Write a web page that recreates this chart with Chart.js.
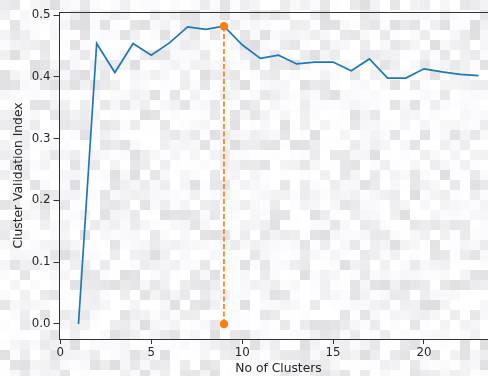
<!DOCTYPE html>
<html>
<head>
<meta charset="utf-8">
<script src="https://cdn.jsdelivr.net/npm/chart.js@4/dist/chart.umd.min.js"></script>
<style>
  html, body { margin: 0; padding: 0; background: #ffffff; overflow: hidden; }
  #wrap { position: relative; width: 510px; height: 376px; }
  canvas { display: block; }
</style>
</head>
<body>
<div id="wrap"><canvas id="chart" width="510" height="376"></canvas></div>
<script>
// Cluster validation index for each candidate number of clusters
const clusterCounts = [1, 2, 3, 4, 5, 6, 7, 8, 9, 10, 11, 12, 13, 14, 15, 16, 17, 18, 19, 20, 21, 22, 23];
const validationIndex = [0.000, 0.454, 0.407, 0.454, 0.435, 0.455, 0.481, 0.477, 0.482, 0.452, 0.430, 0.435,
                         0.421, 0.424, 0.424, 0.410, 0.429, 0.398, 0.398, 0.413, 0.408, 0.404, 0.402];
// Best number of clusters (highest index)
const bestK = 9;
const bestValue = 0.482;
const xTicks = [0, 5, 10, 15, 20];
const yTicks = [0.0, 0.1, 0.2, 0.3, 0.4, 0.5];

const FONT = "'DejaVu Sans', sans-serif";
const TEXT = '#262626';

// Faint blocky backdrop behind the whole figure
const backdrop = {
  id: 'backdrop',
  beforeDraw(chart) {
    const ctx = chart.ctx;
    const w = chart.width, h = chart.height, s = 10;
    ctx.save();
    ctx.fillStyle = '#ffffff';
    ctx.fillRect(0, 0, w, h);
    for (let by = 0; by < h; by += s) {
      for (let bx = 0; bx < w; bx += s) {
        let n = (bx * 374761393 + by * 668265263) ^ 0x5bd1e995;
        n = (n ^ (n >>> 13)) * 1274126177;
        n = (n ^ (n >>> 16)) >>> 0;
        const t = (n % 1000) / 1000;
        const g = Math.round(255 - 32 * t * t);
        ctx.fillStyle = `rgb(${g},${g},${Math.min(255, g + 3)})`;
        ctx.fillRect(bx, by, s, s);
      }
    }
    ctx.restore();
  }
};

// Axes frame: left, bottom, top, right
const frame = {
  id: 'frame',
  afterDatasetsDraw(chart) {
    const { left, right, top, bottom } = chart.chartArea;
    const ctx = chart.ctx;
    ctx.save();
    ctx.strokeStyle = '#333333';
    ctx.lineWidth = 1;
    ctx.strokeRect(Math.round(left) + 0.5, Math.round(top) + 0.5,
                   Math.round(right - left), Math.round(bottom - top));
    ctx.restore();
  }
};

new Chart(document.getElementById('chart'), {
  type: 'line',
  data: {
    datasets: [
      {
        data: clusterCounts.map((k, i) => ({ x: k, y: validationIndex[i] })),
        borderColor: '#1f77b4',
        borderWidth: 1.7,
        pointRadius: 0,
        tension: 0,
        fill: false,
        order: 2
      },
      {
        data: [{ x: bestK, y: 0 }, { x: bestK, y: bestValue }],
        borderColor: '#ff7f0e',
        borderWidth: 1.7,
        borderDash: [5, 2.5],
        pointRadius: 4.2,
        pointBackgroundColor: '#ff7f0e',
        pointBorderWidth: 0,
        fill: false,
        order: 1
      }
    ]
  },
  options: {
    responsive: false,
    animation: false,
    layout: { padding: { top: 12, right: 11.5, left: 11, bottom: 0 } },
    plugins: { legend: { display: false }, tooltip: { enabled: false } },
    scales: {
      x: {
        type: 'linear',
        min: -0.1,
        max: 24.1,
        afterBuildTicks: s => { s.ticks = xTicks.map(v => ({ value: v })); },
        afterFit: s => { s.height = 37; },
        grid: { drawOnChartArea: false, tickLength: 5, color: '#333333', tickWidth: 1 },
        border: { display: false },
        ticks: { color: TEXT, font: { family: FONT, size: 11.8 }, padding: 2, maxRotation: 0, callback: v => String(v) },
        title: { display: true, text: 'No of Clusters', color: TEXT, font: { family: FONT, size: 12.3 }, padding: { top: 0, bottom: 0 } }
      },
      y: {
        type: 'linear',
        min: -0.0243,
        max: 0.505,
        afterBuildTicks: s => { s.ticks = yTicks.map(v => ({ value: v })); },
        afterFit: s => { s.width = 47.5; },
        grid: { drawOnChartArea: false, tickLength: 5, color: '#333333', tickWidth: 1 },
        border: { display: false },
        ticks: { color: TEXT, font: { family: FONT, size: 11.8 }, padding: 3, callback: v => v.toFixed(1) },
        title: { display: true, text: 'Cluster Validation Index', color: TEXT, font: { family: FONT, size: 12.3 }, padding: { top: 0, bottom: 0 } }
      }
    }
  },
  plugins: [backdrop, frame]
});
</script>
</body>
</html>
